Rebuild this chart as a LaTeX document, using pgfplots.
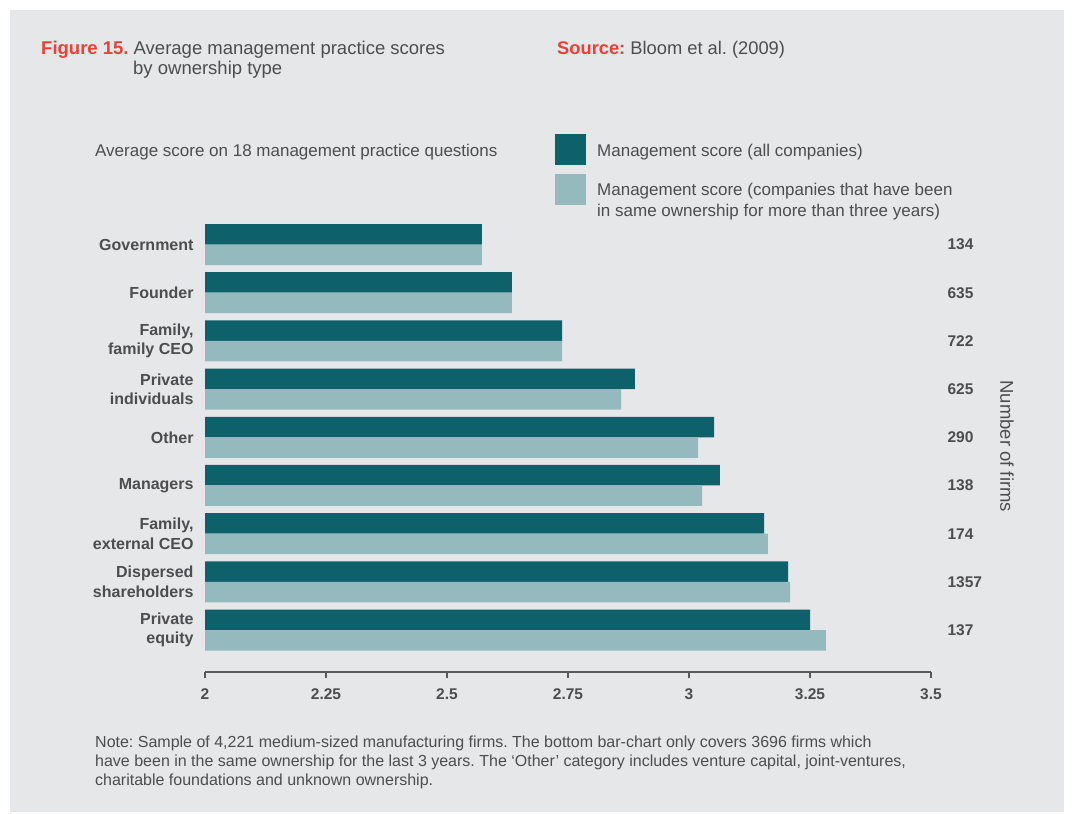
\documentclass[border=0pt]{standalone}
\usepackage{fontspec}
\setmainfont{Liberation Sans}
\usepackage{pgfplots}
\pgfplotsset{compat=1.18}
\definecolor{bg}{HTML}{E6E7E8}
\definecolor{darkteal}{HTML}{0E616B}
\definecolor{lightteal}{HTML}{94BABD}
\definecolor{txt}{HTML}{4D4D4F}
\definecolor{figred}{HTML}{EC4036}
\definecolor{axisgray}{HTML}{58595B}
\newcommand{\fs}[2]{\fontsize{#1bp}{#2bp}\selectfont}
\frenchspacing
\begin{document}
\frenchspacing
\begin{tikzpicture}
\useasboundingbox (0,0) rectangle (1074bp,-814bp);
\fill[white] (0,0) rectangle (1074bp,-814bp);
\fill[bg] (10bp,-10bp) rectangle (1064bp,-812bp);
% title and source
\node[anchor=base west, inner sep=0, text=txt, font=\fs{18.5}{20}] at (41bp,-54bp) {\textcolor{figred}{\bfseries Figure 15.} Average management practice scores};
\node[anchor=base west, inner sep=0, text=txt, font=\fs{18.5}{20}] at (133bp,-74bp) {by ownership type};
\node[anchor=base west, inner sep=0, text=txt, font=\fs{18.3}{20}] at (557bp,-54bp) {\textcolor{figred}{\bfseries Source:} Bloom et al. (2009)};
\node[anchor=base west, inner sep=0, text=txt, font=\fs{17}{20}] at (95bp,-156.7bp) {Average score on 18 management practice questions};
% legend
\fill[darkteal] (555bp,-134bp) rectangle (586bp,-165bp);
\fill[lightteal] (555bp,-174bp) rectangle (586bp,-205bp);
\node[anchor=base west, inner sep=0, text=txt, font=\fs{17}{20}] at (597bp,-156.7bp) {Management score (all companies)};
\node[anchor=base west, inner sep=0, text=txt, font=\fs{17}{20}] at (597bp,-195.3bp) {Management score (companies that have been};
\node[anchor=base west, inner sep=0, text=txt, font=\fs{17}{20}] at (597bp,-216bp) {in same ownership for more than three years)};
% note
\node[anchor=base west, inner sep=0, text=txt, font=\fs{16}{19}] at (95bp,-747bp) {Note: Sample of 4,221 medium-sized manufacturing firms. The bottom bar-chart only covers 3696 firms which};
\node[anchor=base west, inner sep=0, text=txt, font=\fs{16}{19}] at (95bp,-766bp) {have been in the same ownership for the last 3 years. The ‘Other’ category includes venture capital, joint-ventures,};
\node[anchor=base west, inner sep=0, text=txt, font=\fs{16}{19}] at (95bp,-785bp) {charitable foundations and unknown ownership.};

\begin{axis}[
  at={(205bp,-672bp)}, anchor=south west,
  scale only axis, width=726bp, height=451.6bp,
  xmin=2, xmax=3.5, ymin=-0.5, ymax=8.87, y dir=reverse,
  axis x line*=bottom, axis y line*=left,
  x axis line style={-, draw=axisgray, line width=1.3bp},
  y axis line style={draw=none},
  xtick={2,2.25,2.5,2.75,3,3.25,3.5},
  xtick align=outside, major tick length=6bp,
  xtick style={draw=axisgray, line width=1.3bp},
  ytick style={draw=none},
  /pgf/number format/assume math mode=true,
  xticklabel style={font=\fs{15.5}{18}\bfseries, text=txt, yshift=-7bp},
  ytick={0,1,2,3,4,5,6,7,8},
  yticklabels={Government, Founder, {Family,\\family CEO}, {Private\\individuals}, Other, Managers, {Family,\\external CEO}, {Dispersed\\shareholders}, {Private\\equity}},
  yticklabel style={align=right, font=\fs{16}{19.5}\bfseries, text=txt, xshift=-2bp},
  xbar, bar width=0.4253,
]
\addplot[fill=darkteal, draw=none, bar shift=-0.2127] coordinates {(2.572,0) (2.634,1) (2.738,2) (2.888,3) (3.052,4) (3.064,5) (3.155,6) (3.205,7) (3.250,8)};
\addplot[fill=lightteal, draw=none, bar shift=0.2127] coordinates {(2.572,0) (2.634,1) (2.738,2) (2.860,3) (3.019,4) (3.027,5) (3.163,6) (3.209,7) (3.283,8)};
\end{axis}

\begin{axis}[
  at={(205bp,-672bp)}, anchor=south west,
  scale only axis, width=726bp, height=451.6bp,
  xmin=2, xmax=3.5, ymin=-0.5, ymax=8.87, y dir=reverse,
  axis x line=none, axis y line*=right,
  y axis line style={draw=none}, ytick style={draw=none},
  ytick={0,1,2,3,4,5,6,7,8},
  yticklabels={134,635,722,625,290,138,174,1357,137},
  yticklabel style={anchor=west, font=\fs{15.5}{18}\bfseries, text=txt, xshift=13bp},
  ylabel={Number of firms},
  ylabel style={at={(rel axis cs:1.1047,0.5)}, anchor=center, rotate=180, font=\fs{18.5}{20}, text=txt},
]
\addplot[draw=none, forget plot] coordinates {(2,0) (2,8)};
\end{axis}
\end{tikzpicture}
\end{document}
